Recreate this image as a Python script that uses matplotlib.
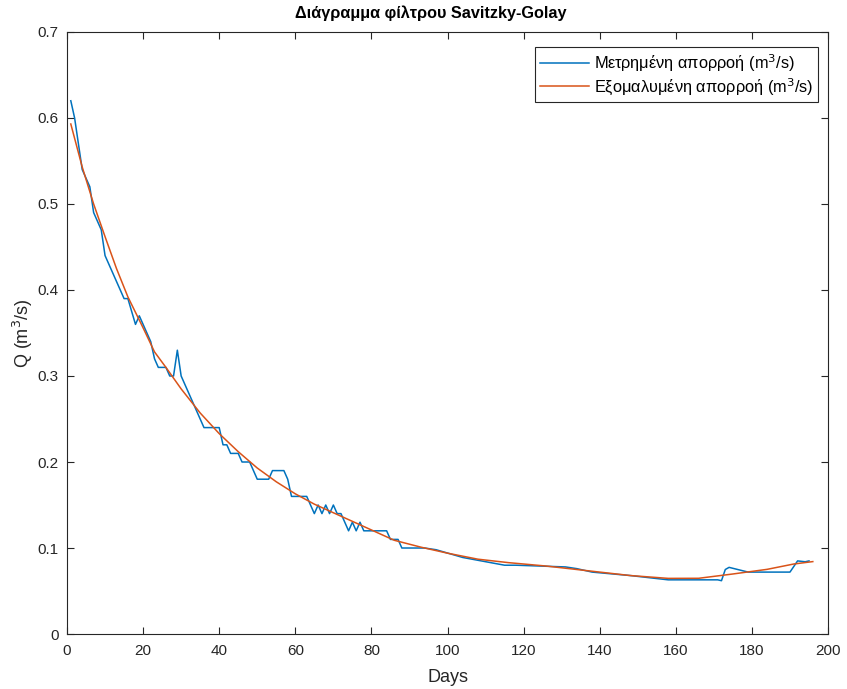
import numpy as np
import matplotlib.pyplot as plt

plt.rcParams['font.family'] = ['Liberation Sans', 'DejaVu Sans']

days_meas = [1, 2, 4, 5, 6, 7, 9, 10, 14, 15, 16, 18, 19, 22, 23, 24, 26, 27, 28, 29,
             30, 34, 36, 40, 41, 42, 43, 45, 46, 48, 50, 53, 54, 57, 58, 59, 63, 64,
             65, 66, 67, 68, 69, 70, 71, 72, 73, 74, 75, 76, 77, 78, 84, 85, 87, 88,
             94, 97, 104, 115, 118, 131, 134, 138, 148, 158, 171, 172, 173, 174, 179,
             190, 192, 194, 195]
q_meas = [0.62, 0.60, 0.54, 0.53, 0.52, 0.49, 0.47, 0.44, 0.40, 0.39, 0.39, 0.36, 0.37,
          0.34, 0.32, 0.31, 0.31, 0.30, 0.30, 0.33, 0.30, 0.26, 0.24, 0.24, 0.22, 0.22,
          0.21, 0.21, 0.20, 0.20, 0.18, 0.18, 0.19, 0.19, 0.18, 0.16, 0.16, 0.15, 0.14,
          0.15, 0.14, 0.15, 0.14, 0.15, 0.14, 0.14, 0.13, 0.12, 0.13, 0.12, 0.13, 0.12,
          0.12, 0.11, 0.11, 0.10, 0.10, 0.098, 0.089, 0.080, 0.080, 0.078, 0.076, 0.072,
          0.068, 0.063, 0.063, 0.062, 0.075, 0.0775, 0.072, 0.072, 0.085, 0.084, 0.085]

# smoothed runoff (Savitzky-Golay), read at selected days
days_smooth = [1, 4, 7, 10, 13, 16, 20, 23, 26, 30, 35, 40, 45, 50, 55, 60, 65, 70, 75,
               80, 86, 93, 100, 108, 116, 126, 137, 148, 158, 166, 175, 184, 191, 196]
q_smooth = [0.593, 0.543, 0.500, 0.462, 0.425, 0.392, 0.356, 0.328, 0.310, 0.285, 0.257,
            0.233, 0.212, 0.193, 0.177, 0.163, 0.151, 0.141, 0.131, 0.121, 0.109, 0.101,
            0.094, 0.087, 0.083, 0.079, 0.0735, 0.068, 0.0647, 0.0648, 0.0698, 0.0752,
            0.0814, 0.0842]

fig = plt.figure(figsize=(8.47, 6.89), dpi=100)
ax = fig.add_axes([0.0791, 0.0798, 0.8985, 0.8738])

ax.plot(days_meas, q_meas, color='#0072BD', linewidth=1.1,
        label='Μετρημένη απορροή (m$^3$/s)')
ax.plot(days_smooth, q_smooth, color='#D95319', linewidth=1.1,
        label='Εξομαλυμένη απορροή (m$^3$/s)')

ax.set_xlim(0, 200)
ax.set_ylim(0, 0.7)
ax.set_xticks(np.arange(0, 201, 20))
ax.set_yticks(np.arange(0, 0.71, 0.1))
ax.set_yticklabels(['0', '0.1', '0.2', '0.3', '0.4', '0.5', '0.6', '0.7'])
ax.tick_params(direction='in', length=5, top=True, right=True, labelsize=11,
               colors='#262626', width=0.8)
ax.tick_params(axis='x', pad=7)
ax.tick_params(axis='y', pad=6)
for s in ax.spines.values():
    s.set_color('#262626')
    s.set_linewidth(0.8)

ax.set_title('Διάγραμμα φίλτρου Savitzky-Golay', fontsize=11.7, fontweight='bold',
             pad=10, x=0.478)
ax.set_xlabel('Days', fontsize=13, color='#262626', labelpad=8)
ax.set_ylabel('Q (m$^3$/s)', fontsize=13, color='#262626', labelpad=2)

leg = ax.legend(loc='upper right', bbox_to_anchor=(0.987, 0.975), borderaxespad=0,
                fontsize=11.8, fancybox=False, edgecolor='#262626', framealpha=1,
                handlelength=3.0, handletextpad=0.3, labelspacing=0.15, borderpad=0.3)
leg.get_frame().set_linewidth(0.8)

fig.savefig('out.png', dpi=100)
